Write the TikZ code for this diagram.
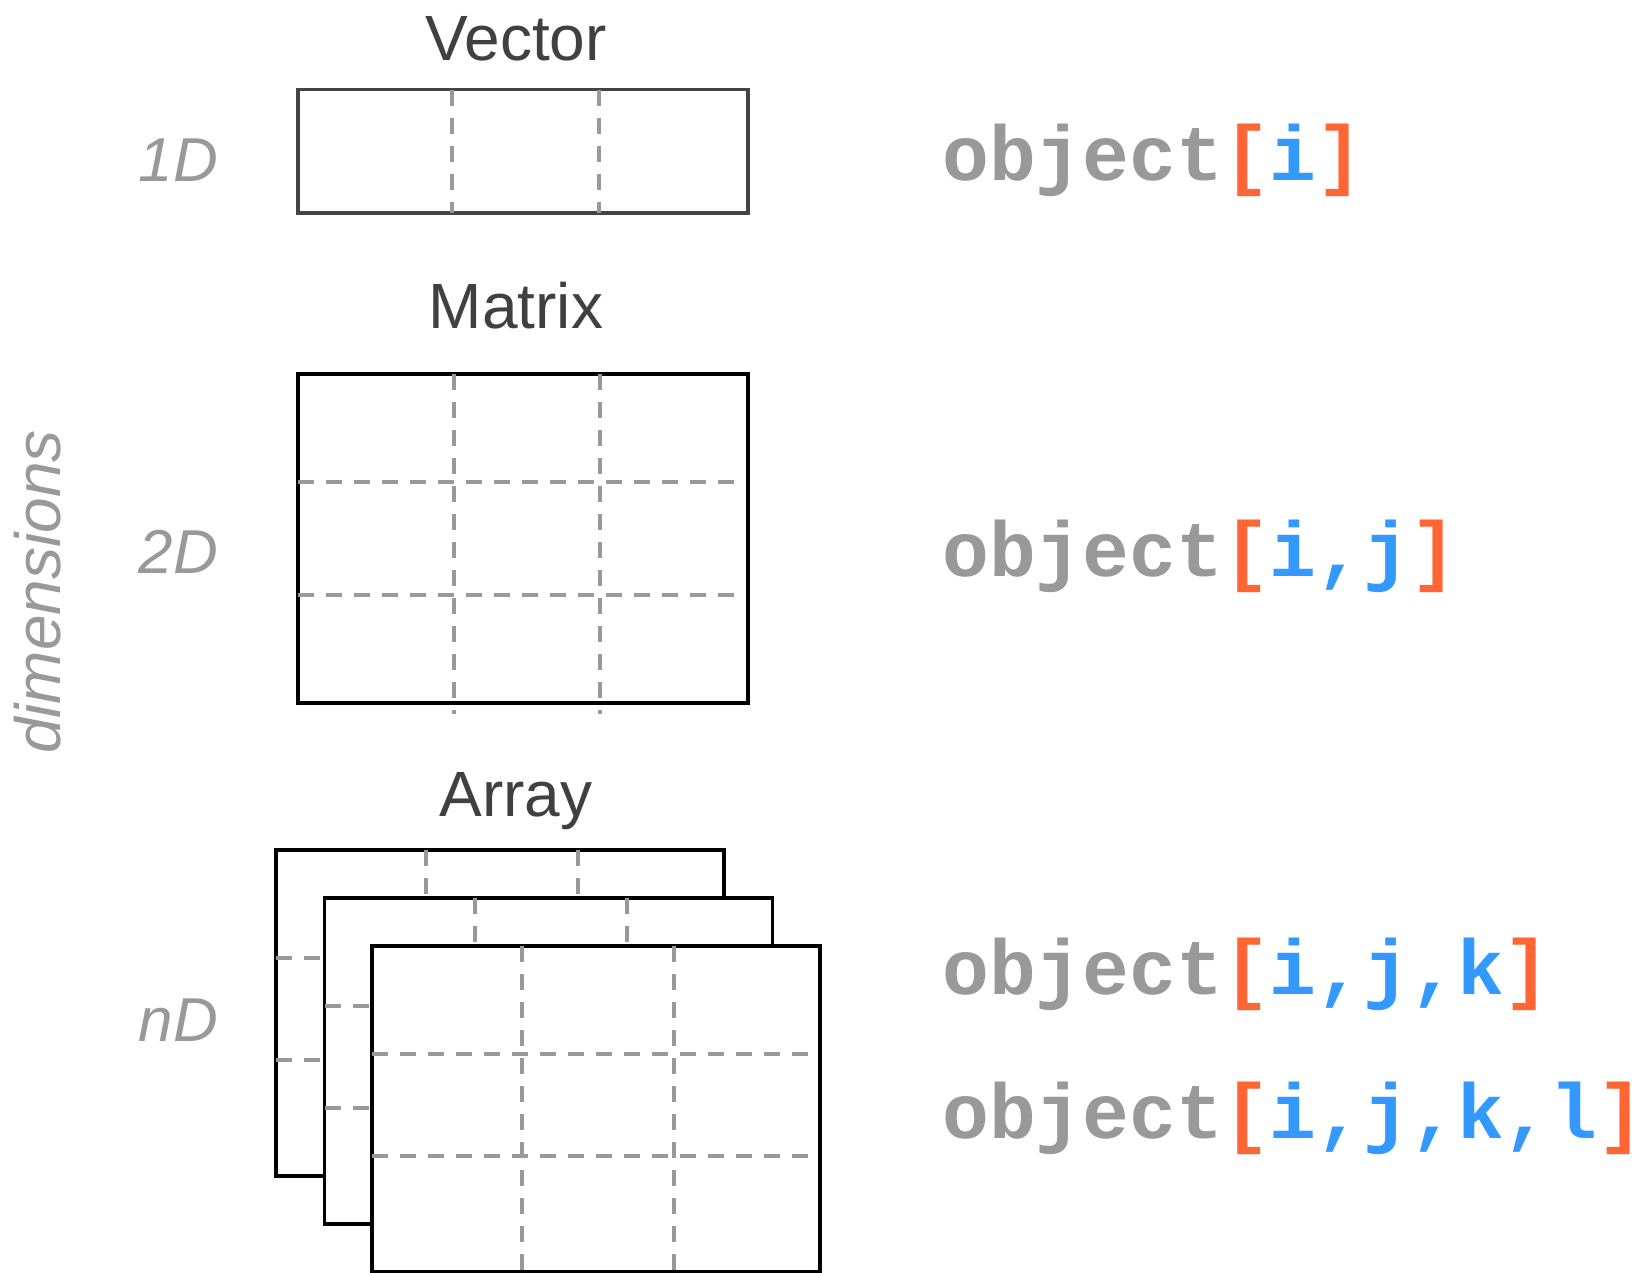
\documentclass[tikz,border=0pt]{standalone}
\usepackage{fontspec}
\setmainfont{Liberation Sans}
\newfontfamily\codefont{Liberation Mono}
\definecolor{titlegray}{HTML}{404040}
\definecolor{softgray}{HTML}{999999}
\definecolor{boxgray}{HTML}{444444}
\definecolor{bracketorange}{HTML}{FF6633}
\definecolor{indexblue}{HTML}{3399FF}
\newcommand{\idx}[1]{\textcolor{indexblue}{#1}}
\newcommand{\brk}[1]{\textcolor{bracketorange}{#1}}
\tikzset{
  title/.style={inner sep=0pt, anchor=base, text=titlegray, font=\fontsize{64}{70}\selectfont},
  dimlabel/.style={inner sep=0pt, anchor=base east, text=softgray, font=\fontsize{62}{68}\selectfont\itshape},
  code/.style={inner sep=0pt, anchor=base west, text=softgray, font=\fontsize{78}{82}\selectfont\codefont\bfseries},
  frame/.style={line width=3.5pt, line join=miter, fill=white},
  cellline/.style={draw=softgray, line width=4pt, dash pattern=on 16pt off 12pt},
}
\begin{document}
\begin{tikzpicture}[x=1pt, y=-1pt]
\useasboundingbox (0,0) rectangle (1651,1272);

% axis label
\node[rotate=90, anchor=base, inner sep=0pt, text=softgray,
      font=\fontsize{64}{70}\selectfont\itshape] (dims) at (60,592) {dimensions};

% ---- 1D: vector
\node[title] (vtitle) at (516,60) {Vector};
\node[dimlabel] (l1) at (218,181) {1D};
\draw[frame, draw=boxgray] (298,89.5) rectangle (748,213);
\draw[cellline] (452,89.5) -- (452,213);
\draw[cellline] (599,89.5) -- (599,213);

% ---- 2D: matrix
\node[title] (mtitle) at (516,328) {Matrix};
\node[dimlabel] (l2) at (218,573) {2D};
\draw[frame, draw=black] (298,374) rectangle (748,703);
\draw[cellline] (454,374) -- (454,714);
\draw[cellline] (600,374) -- (600,714);
\draw[cellline] (298,482) -- (737,482);
\draw[cellline] (298,595) -- (737,595);

% ---- nD: stacked arrays
\node[title] (atitle) at (516,816) {Array};
\node[dimlabel] (l3) at (218,1041) {nD};
\foreach \dx/\dy in {276/850, 324.5/898, 372/946}{
  \draw[frame, draw=black] (\dx,\dy) rectangle ++(448,326);
  \draw[cellline] (\dx+150,\dy) -- ++(0,326);
  \draw[cellline] (\dx+302,\dy) -- ++(0,326);
  \draw[cellline] (\dx,\dy+108) -- ++(439,0);
  \draw[cellline] (\dx,\dy+210) -- ++(439,0);
}

% ---- indexing syntax
\node[code] (c1) at (942,180) {object\brk{[}\idx{i}\brk{]}};
\node[code] (c2) at (942,576) {object\brk{[}\idx{i,j}\brk{]}};
\node[code] (c3) at (942,994) {object\brk{[}\idx{i,j,k}\brk{]}};
\node[code] (c4) at (942,1138) {object\brk{[}\idx{i,j,k,l}\brk{]}};
\end{tikzpicture}
\end{document}
